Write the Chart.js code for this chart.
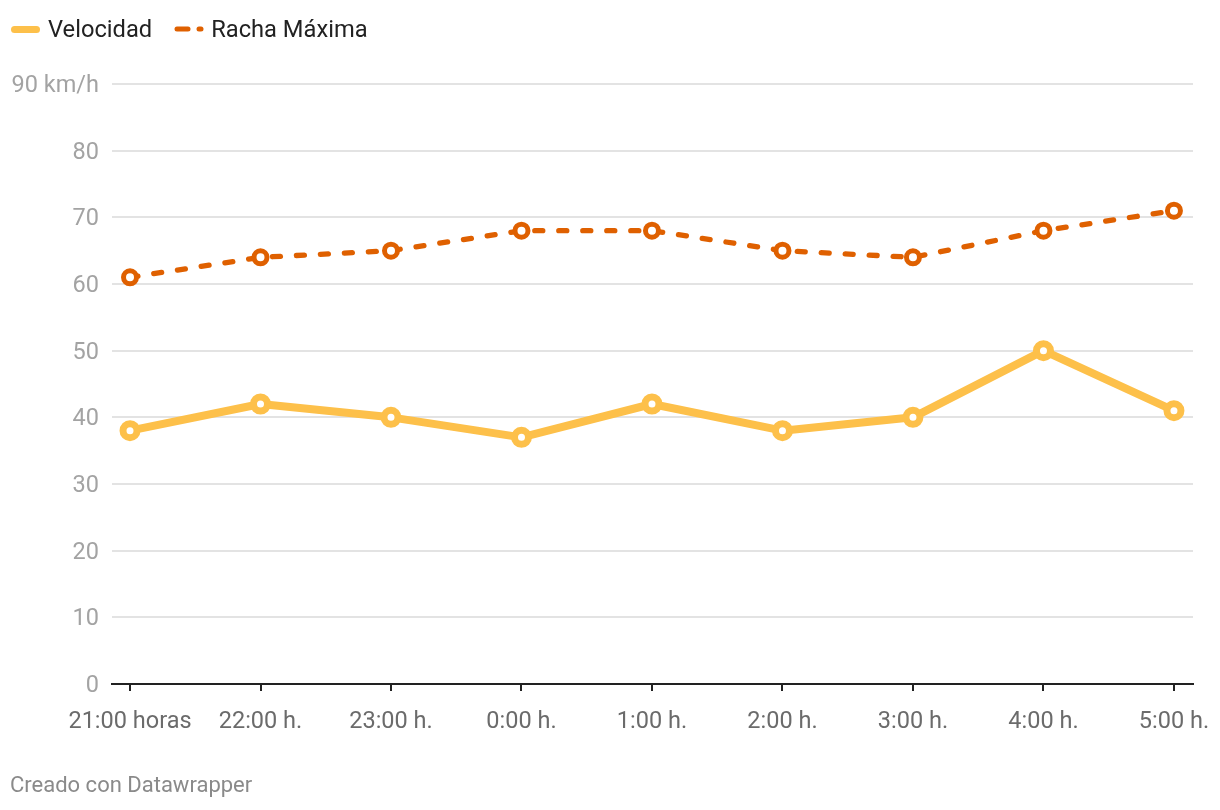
<!DOCTYPE html>
<html>
<head>
<meta charset="utf-8">
<script src="https://cdn.jsdelivr.net/npm/chart.js@4"></script>
<style>
  body { margin: 0; background: #fff; font-family: Roboto, sans-serif; }
  #wrap { position: relative; width: 1220px; height: 810px; }
  #chart { position: absolute; left: 0; top: 0; }
  .legend { position: absolute; top: 15px; left: 11px; display: flex; align-items: center; font-size: 23.7px; color: #222; }
  .item { display: flex; align-items: center; margin-right: 22px; }
  .swatch { width: 29px; height: 7px; border-radius: 4px; margin-right: 8px; }
  .footer { position: absolute; left: 10px; top: 772px; font-size: 22px; color: #8a8a8a; }
</style>
</head>
<body>
<div id="wrap">
  <canvas id="chart" width="1220" height="810"></canvas>
  <div class="legend">
    <div class="item"><div class="swatch" style="background:#fdc04a"></div>Velocidad</div>
    <div class="item">
      <svg width="31" height="10" style="margin-right:6px"><line x1="3" y1="5" x2="14" y2="5" stroke="#df6000" stroke-width="5" stroke-linecap="round"/><line x1="25" y1="5" x2="27" y2="5" stroke="#df6000" stroke-width="5" stroke-linecap="round"/></svg>Racha Máxima
    </div>
  </div>
  <div class="footer">Creado con Datawrapper</div>
</div>
<script>
// Datos del gráfico
const categories = ['21:00 horas', '22:00 h.', '23:00 h.', '0:00 h.', '1:00 h.', '2:00 h.', '3:00 h.', '4:00 h.', '5:00 h.'];
const velocidad = [38, 42, 40, 37, 42, 38, 40, 50, 41];
const rachaMaxima = [61, 64, 65, 68, 68, 65, 64, 68, 71];
const yTicks = [0, 10, 20, 30, 40, 50, 60, 70, 80, 90];

const toPoints = arr => arr.map((v, i) => ({ x: i, y: v }));

const ctx = document.getElementById('chart').getContext('2d');
new Chart(ctx, {
    type: 'line',
    data: {
        datasets: [{
            label: 'Racha Máxima',
            data: toPoints(rachaMaxima),
            borderColor: '#df6000',
            borderWidth: 5.3,
            borderDash: [8, 16],
            borderCapStyle: 'round',
            pointRadius: 6.5,
            pointBorderWidth: 5,
            pointBackgroundColor: '#fff',
            pointBorderColor: '#df6000',
            tension: 0
        }, {
            label: 'Velocidad',
            data: toPoints(velocidad),
            borderColor: '#fdc04a',
            borderWidth: 8,
            borderJoinStyle: 'round',
            pointRadius: 7,
            pointBorderWidth: 7,
            pointBackgroundColor: '#fff',
            pointBorderColor: '#fdc04a',
            tension: 0
        }]
    },
    options: {
        responsive: false,
        animation: false,
        layout: { padding: { top: 84, right: 27, left: 0, bottom: 0 } },
        plugins: { legend: { display: false }, tooltip: { enabled: false } },
        scales: {
            x: {
                type: 'linear',
                min: -0.138,
                max: 8.146,
                afterBuildTicks: function(scale) {
                    scale.ticks = categories.map((c, i) => ({ value: i }));
                },
                afterFit: function(scale) {
                    scale.height = 126;
                    scale.paddingLeft = 0;
                    scale.paddingRight = 0;
                },
                grid: { drawOnChartArea: false, color: '#222', tickLength: 7, lineWidth: 2 },
                border: { color: '#222', width: 2 },
                ticks: {
                    autoSkip: false,
                    maxRotation: 0,
                    padding: 17,
                    color: '#6b6b6b',
                    font: { family: 'Roboto', size: 23.5 },
                    callback: function(value) { return categories[value]; }
                }
            },
            y: {
                min: 0,
                max: 90,
                afterBuildTicks: function(scale) {
                    scale.ticks = yTicks.map(v => ({ value: v }));
                },
                afterFit: function(scale) { scale.width = 112; },
                grid: { color: '#e3e3e3', lineWidth: 2, drawTicks: false },
                border: { display: false },
                ticks: {
                    padding: 13,
                    labelOffset: 2,
                    color: '#a3a3a3',
                    font: { family: 'Roboto', size: 23.5 },
                    callback: function(value) { return value === 90 ? '90 km/h' : value; }
                }
            }
        }
    }
});
</script>
</body>
</html>
